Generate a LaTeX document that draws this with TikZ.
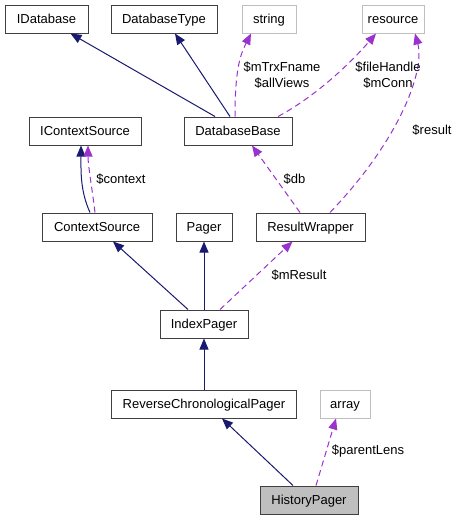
\documentclass[tikz,border=0pt]{standalone}
\usepackage{fontspec}
\setmainfont{Liberation Sans}
\usetikzlibrary{arrows.meta,calc}
\definecolor{navy}{HTML}{191970}
\definecolor{orchid}{HTML}{9A32CD}
\definecolor{frame}{HTML}{404040}
\definecolor{extframe}{HTML}{BFBFBF}
\definecolor{curfill}{HTML}{BFBFBF}
\tikzset{
  cls/.style={draw=frame,line width=1pt,fill=white,inner sep=0pt,
    minimum height=28pt,text height=9pt,text depth=0pt,
    font=\fontsize{13}{15}\selectfont},
  ext/.style={cls,draw=extframe},          % types outside the code base
  cur/.style={cls,fill=curfill},           % the class being documented
  inh/.style={draw=navy,line width=1pt,-{Triangle[length=11pt,width=9pt]}},
  usage/.style={draw=orchid,line width=1pt,dash pattern=on 6pt off 4pt,
    -{Triangle[length=11pt,width=9pt]}},
  elabel/.style={font=\fontsize{13}{16}\selectfont,align=center,inner sep=0pt},
}
\begin{document}
\begin{tikzpicture}[x=1pt,y=-1pt]
  \useasboundingbox (0,0) rectangle (459,520);
  % --- classes ---
  \node[cls,minimum width=83pt]  (idb)   at (46.5,19) {IDatabase};
  \node[cls,minimum width=106pt] (dbtype) at (164,19) {DatabaseType};
  \node[ext,minimum width=54pt]  (str)   at (269,19) {string};
  \node[ext,minimum width=62pt]  (res)   at (393,19) {resource};
  \node[cls,minimum width=112pt] (ics)   at (85,131) {IContextSource};
  \node[cls,minimum width=108pt] (dbbase) at (238,131) {DatabaseBase};
  \node[cls,minimum width=110pt] (cs)    at (97,227) {ContextSource};
  \node[cls,minimum width=56pt]  (pager) at (204,227) {Pager};
  \node[cls,minimum width=109pt] (rw)    at (310.5,227) {ResultWrapper};
  \node[cls,minimum width=88pt]  (ip)    at (204,324) {IndexPager};
  \node[cls,minimum width=185pt] (rcp)   at (204,404) {ReverseChronologicalPager};
  \node[ext,minimum width=50pt]  (arr)   at (345,404) {array};
  \node[cur,minimum width=98pt]  (hp)    at (309,500) {HistoryPager};
  % --- inheritance ---
  \draw[inh] ([xshift=-23pt]dbbase.north) -- ([xshift=24pt]idb.south);
  \draw[inh] ([xshift=-8pt]dbbase.north) -- ([xshift=11pt]dbtype.south);
  \draw[inh] ([xshift=-7pt]cs.north) .. controls +(-10,-22) and +(0,25) .. ([xshift=-4pt]ics.south);
  \draw[inh] ([xshift=-16pt]ip.north) -- ([xshift=16pt]cs.south);
  \draw[inh] (ip) -- (pager);
  \draw[inh] (rcp) -- (ip);
  \draw[inh] ([xshift=-16pt]hp.north) -- ([xshift=18pt]rcp.south);
  % --- usage ---
  \draw[usage] ([xshift=-3pt]dbbase.north) .. controls +(0,-50) and +(-10,20) .. ([xshift=-18pt]str.south);
  \draw[usage] ([xshift=40pt]dbbase.north) .. controls +(32,-17) and +(-31,36) .. ([xshift=-17pt]res.south);
  \draw[usage] ([xshift=19.5pt]rw.north) .. controls +(70,-73) and +(10,37) .. ([xshift=22pt]res.south);
  \draw[usage] ([xshift=-10.5pt]rw.north) -- ([xshift=14pt]dbbase.south);
  \draw[usage] ([xshift=-2pt]cs.north) .. controls +(-3,-25) and +(0,20) .. ([xshift=3pt]ics.south);
  \draw[usage] ([xshift=16pt]ip.north) -- ([xshift=-18pt]rw.south);
  \draw[usage] ([xshift=7pt]hp.north) -- ([xshift=-9pt]arr.south);
  % --- member labels ---
  \node[elabel] (lstr) at (282,75) {\$mTrxFname\\\$allViews};
  \node[elabel] (lres) at (388,75) {\$fileHandle\\\$mConn};
  \node[elabel] (lresult) at (432,130) {\$result};
  \node[elabel] (ldb) at (294.5,179) {\$db};
  \node[elabel] (lctx) at (121,179) {\$context};
  \node[elabel] (lmres) at (299,275) {\$mResult};
  \node[elabel] (lpl) at (368,451) {\$parentLens};
\end{tikzpicture}
\end{document}
